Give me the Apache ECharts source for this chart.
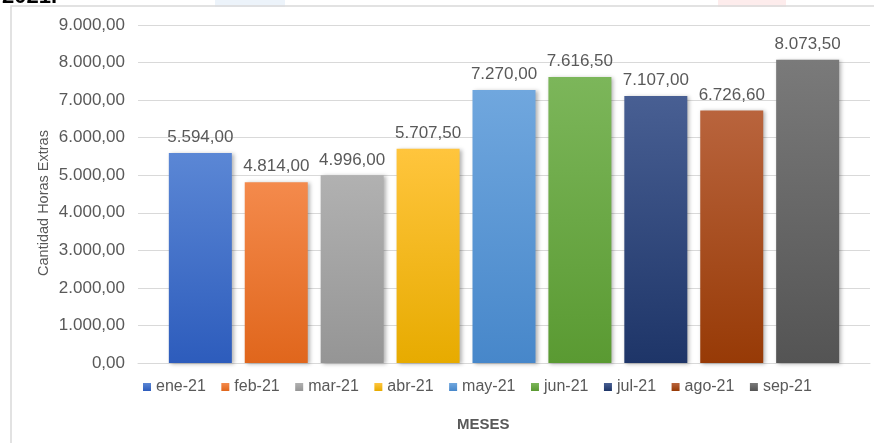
<!DOCTYPE html>
<html>
<head>
<meta charset="utf-8">
<script src="https://cdn.jsdelivr.net/npm/echarts@6/dist/echarts.min.js"></script>
<style>
  html, body { margin: 0; padding: 0; background: #fff; }
  #chart { width: 874px; height: 443px; }
</style>
</head>
<body>
<div id="chart"></div>
<script>
    // data
    var months = ['ene-21', 'feb-21', 'mar-21', 'abr-21', 'may-21', 'jun-21', 'jul-21', 'ago-21', 'sep-21'];
    var horas = [5594.00, 4814.00, 4996.00, 5707.50, 7270.00, 7616.50, 7107.00, 6726.60, 8073.50];

    // top / bottom of each bar's gradient
    var colorsTop = ['#5b87d5', '#f48a4c', '#b1b1b1', '#ffc53d', '#70a7de', '#7cb65a', '#485f93', '#b9643d', '#7a7a7a'];
    var colorsBottom = ['#2d5cbc', '#e0661c', '#959595', '#e7ab00', '#4787ca', '#5a9a32', '#1e3568', '#973a06', '#545454'];

    function fmt(v) {
        var parts = v.toFixed(2).split('.');
        parts[0] = parts[0].replace(/\B(?=(\d{3})+(?!\d))/g, '.');
        return parts[0] + ',' + parts[1];
    }

    var chart = echarts.init(document.getElementById('chart'));

    var series = months.map(function (m, i) {
        return {
            name: m,
            type: 'bar',
            barWidth: 63,
            barGap: '20.5%',
            data: [horas[i]],
            itemStyle: {
                color: new echarts.graphic.LinearGradient(0, 0, 0, 1, [
                    {offset: 0, color: colorsTop[i]},
                    {offset: 1, color: colorsBottom[i]}
                ]),
                shadowColor: 'rgba(0,0,0,0.3)',
                shadowBlur: 4,
                shadowOffsetX: 2,
                shadowOffsetY: 1
            },
            label: {
                show: true,
                position: 'top',
                distance: 7,
                color: '#595959',
                fontFamily: 'Liberation Sans',
                fontSize: 17,
                formatter: function (p) { return fmt(p.value); }
            }
        };
    });

    var option = {
        animation: false,
        backgroundColor: '#fff',
        graphic: [
            {type: 'rect', left: 215, top: 0, shape: {width: 70, height: 7}, style: {fill: 'rgba(200,220,240,0.35)'}, z: 0},
            {type: 'rect', left: 718, top: 0, shape: {width: 68, height: 7}, style: {fill: 'rgba(250,200,200,0.35)'}, z: 0},
            {type: 'rect', shape: {x: 11, y: 6, width: 900, height: 500}, style: {fill: 'none', stroke: '#d9d9d9', lineWidth: 1.5}, z: 0},
            {type: 'text', left: 2, top: -14, style: {text: '2021.', fontFamily: 'Liberation Sans', fontWeight: 'bold', fontSize: 22, fill: '#000'}},
            {type: 'text', left: 457, top: 417, style: {text: 'MESES', fontFamily: 'Liberation Sans', fontWeight: 'bold', fontSize: 15, fill: '#595959'}},
            {
                type: 'text', x: 44, y: 203, rotation: Math.PI / 2,
                style: {
                    text: 'Cantidad Horas Extras', fontFamily: 'Liberation Sans', fontSize: 14.5,
                    fill: '#595959', align: 'center', verticalAlign: 'middle'
                }
            }
        ],
        legend: {
            data: months,
            left: 138,
            top: 374,
            icon: 'rect',
            itemWidth: 8,
            itemHeight: 8,
            itemGap: 15.5,
            textStyle: {color: '#595959', fontFamily: 'Liberation Sans', fontSize: 16}
        },
        grid: {left: 138, right: 4, top: 25, bottom: 80},
        xAxis: {
            type: 'category',
            data: [''],
            axisTick: {show: false},
            axisLabel: {show: false},
            axisLine: {lineStyle: {color: '#d9d9d9', width: 1}}
        },
        yAxis: {
            type: 'value',
            min: 0,
            max: 9000,
            interval: 1000,
            axisLine: {show: false},
            axisTick: {show: false},
            axisLabel: {
                color: '#595959',
                fontFamily: 'Liberation Sans',
                fontSize: 17,
                margin: 13,
                formatter: function (v) { return fmt(v); }
            },
            splitLine: {lineStyle: {color: '#d9d9d9', width: 1}}
        },
        series: series
    };

    chart.setOption(option);
</script>
</body>
</html>
